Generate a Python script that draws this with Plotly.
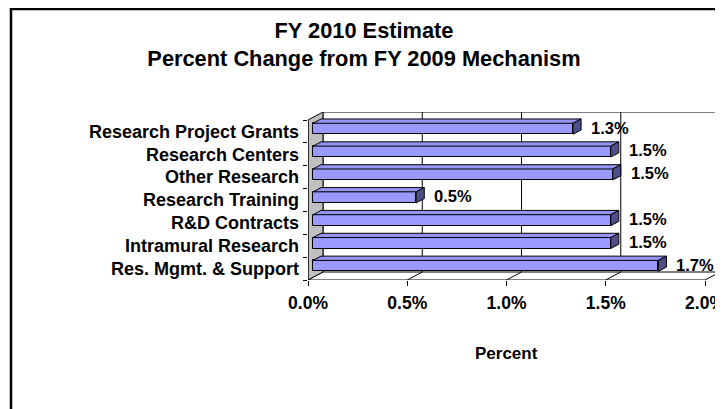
import plotly.graph_objects as go

# ---------------- data ----------------
categories = ["Research Project Grants", "Research Centers", "Other Research",
              "Research Training", "R&D Contracts", "Intramural Research",
              "Res. Mgmt. & Support"]
values = [1.31, 1.50, 1.51, 0.52, 1.50, 1.50, 1.74]
x_ticks = [0.0, 0.5, 1.0, 1.5, 2.0]
x_tick_labels = ["0.0%", "0.5%", "1.0%", "1.5%", "2.0%"]
title_lines = ["FY 2010 Estimate", "Percent Change from FY 2009 Mechanism"]
x_title = "Percent"

# ---------------- geometry / style ----------------
PAGE_OFF = 8                   # browser body margin
W, H = 723 - PAGE_OFF, 409 - PAGE_OFF
ML, MR, MT, MB = 308 - PAGE_OFF, 3, 112 - PAGE_OFF, 129
PW = W - ML - MR
PH = H - MT - MB
XMAX = x_ticks[-1]
XS = 397 / XMAX                # px per unit on the front plane
n = len(categories)
YS = 160 / n                   # px per category
DPX, DPY = 15, 8               # 3-D depth offset in px
DX = DPX / XS
DY = -DPY / YS                 # upward = smaller index (reversed axis)
F1, F2 = 1 / 3, 0.87           # bar depth fractions
BW = 0.48                      # bar thickness (category units)

FONT = "Arial, Liberation Sans, sans-serif"
BAR_FRONT = "#9999FF"
BAR_TOP = "#9494F5"
BAR_SIDE = "#4E4E88"
WALL = "#C0C0C0"

base = F1 * DX
offset = F1 * DY - BW / 2
ypos = list(range(n))

fig = go.Figure()
fig.add_trace(go.Bar(
    x=values, y=ypos, base=base, orientation="h", width=BW, offset=offset,
    marker=dict(color=BAR_FRONT, line=dict(color="#000000", width=1)),
    hoverinfo="skip", showlegend=False,
))

shapes = []
ytop, ybot = -0.5, n - 0.5
# back wall
shapes.append(dict(type="rect", xref="x", yref="y", x0=DX, x1=XMAX + DX,
                   y0=ytop + DY, y1=ybot + DY, fillcolor="white",
                   line=dict(color="black", width=1), layer="below"))
# back wall gridlines
for v in x_ticks[1:-1]:
    shapes.append(dict(type="line", xref="x", yref="y", x0=v + DX, x1=v + DX,
                       y0=ytop + DY, y1=ybot + DY,
                       line=dict(color="black", width=1), layer="below"))
# floor lines
for v in x_ticks:
    shapes.append(dict(type="line", xref="x", yref="y", x0=v, x1=v + DX,
                       y0=ybot, y1=ybot + DY,
                       line=dict(color="black", width=1), layer="below"))
# side wall
shapes.append(dict(type="path", xref="x", yref="y",
                   path=f"M0,{ytop} L{DX},{ytop + DY} L{DX},{ybot + DY} L0,{ybot} Z",
                   fillcolor=WALL, line=dict(color="black", width=1), layer="below"))
# front axis lines
shapes.append(dict(type="line", xref="x", yref="y", x0=0, x1=0, y0=ytop, y1=ybot,
                   line=dict(color="black", width=1), layer="above"))
shapes.append(dict(type="line", xref="x", yref="y", x0=0, x1=XMAX, y0=ybot, y1=ybot,
                   line=dict(color="black", width=1), layer="above"))
# bar 3-D faces
ddx, ddy = (F2 - F1) * DX, (F2 - F1) * DY
for i, v in enumerate(values):
    yt = i + offset
    yb = yt + BW
    x0, x1 = base, base + v
    shapes.append(dict(type="path", xref="x", yref="y",
                       path=f"M{x0},{yt} L{x1},{yt} L{x1 + ddx},{yt + ddy} L{x0 + ddx},{yt + ddy} Z",
                       fillcolor=BAR_TOP, line=dict(color="black", width=1), layer="above"))
    shapes.append(dict(type="path", xref="x", yref="y",
                       path=f"M{x1},{yt} L{x1 + ddx},{yt + ddy} L{x1 + ddx},{yb + ddy} L{x1},{yb} Z",
                       fillcolor=BAR_SIDE, line=dict(color="black", width=1), layer="above"))
# chart border
shapes.append(dict(type="rect", xref="paper", yref="paper",
                   x0=(11 - PAGE_OFF - ML) / PW, x1=1.2, y0=-1.2,
                   y1=(MT + PH - (9 - PAGE_OFF)) / PH,
                   line=dict(color="black", width=2.5), fillcolor="rgba(0,0,0,0)"))

annotations = []
for i, v in enumerate(values):
    annotations.append(dict(x=base + v + ddx, y=i + F1 * DY - 0.05, xref="x", yref="y",
                            text=f"{v:.1f}%", showarrow=False, xanchor="left",
                            xshift=8, font=dict(family=FONT, size=16.5, color="black",
                                                weight="bold")))
annotations.append(dict(x=XMAX / 2, y=(PH - (353 - PAGE_OFF - MT)) / PH, xref="x",
                        yref="paper", text=x_title, showarrow=False, xanchor="center",
                        yanchor="middle",
                        font=dict(family=FONT, size=17, color="black", weight="bold")))

fig.update_layout(
    width=W, height=H,
    margin=dict(l=ML, r=MR, t=MT, b=MB, autoexpand=False),
    paper_bgcolor="white", plot_bgcolor="rgba(0,0,0,0)",
    title=dict(text="<br>".join(title_lines), xref="container",
               x=(364 - PAGE_OFF) / W, xanchor="center", yref="container",
               y=1 - 30 / H, yanchor="top",
               font=dict(family=FONT, size=21.8, color="black", weight="bold")),
    shapes=shapes, annotations=annotations,
    bargap=0,
)
fig.update_xaxes(range=[0, PW / XS], tickvals=x_ticks, ticktext=x_tick_labels,
                 ticks="outside", ticklen=5, tickcolor="black", showgrid=False,
                 zeroline=False, showline=False, automargin=False,
                 ticklabelstandoff=2, ticklabeloverflow="allow",
                 tickfont=dict(family=FONT, size=17.5, color="black", weight="bold"))
fig.update_yaxes(range=[ybot, ytop + DY], tickvals=ypos, ticktext=categories,
                 ticks="", showgrid=False, zeroline=False, showline=False,
                 automargin=False, ticklabelstandoff=8, ticklabeloverflow="allow",
                 minor=dict(tickvals=[k - 0.5 for k in range(n + 1)], ticks="outside",
                            ticklen=4, tickcolor="black", showgrid=False),
                 tickfont=dict(family=FONT, size=18, color="black", weight="bold"))

fig.write_html("out.html")
